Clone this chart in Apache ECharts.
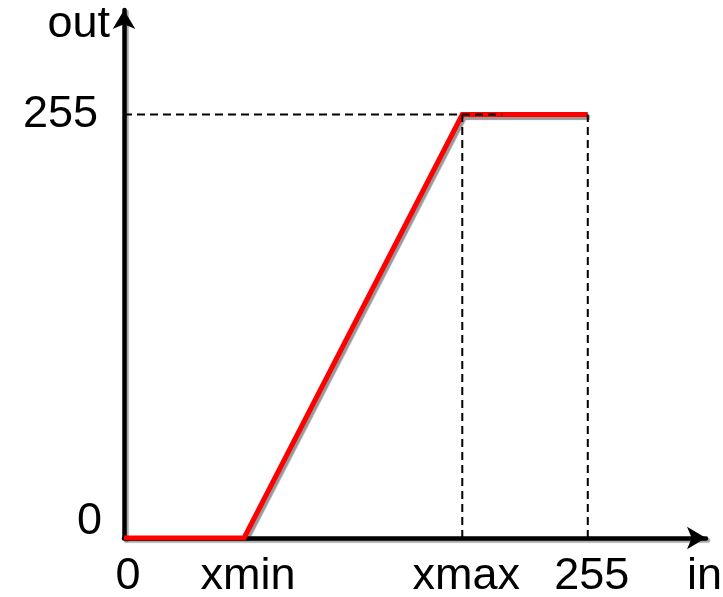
<!DOCTYPE html>
<html>
<head>
<meta charset="utf-8">
<script src="https://cdn.jsdelivr.net/npm/echarts@6/dist/echarts.min.js"></script>
<style>html,body{margin:0;padding:0;background:#fff;}#c{width:723px;height:597px;}</style>
</head>
<body>
<div id="c"></div>
<script>
// Data
var xTickValues = [0, 66, 186, 255, 317];
var xTickLabels = ['0', 'xmin', 'xmax', '255', 'in'];
var yTickValues = [0, 255, 309];
var yTickLabels = ['0', '255', 'out'];
var curveX = [0, 66, 186, 255];
var curveY = [0, 0, 255, 255];
var guideH = [[0, 255], [208, 255]];
var guideV1 = [[186, 0], [186, 255]];
var guideV2 = [[255, 0], [255, 255]];
var xMax = 320;
var yMax = 318;

var FONT = 'Liberation Sans, Arial, sans-serif';
var FS = 45;
var chart = echarts.init(document.getElementById('c'));
var axisLineStyle = {color: '#000', width: 4.5, shadowColor: 'rgba(0,0,0,0.35)', shadowOffsetX: 2, shadowOffsetY: 2, shadowBlur: 1};
var dashStyle = {color: '#000', width: 2, type: [8, 5]};
function pts(xs, ys){ return xs.map(function(x,i){return [x, ys[i]];}); }

chart.setOption({
  animation: false,
  grid: {left: 124, right: 17, top: 10, bottom: 59, outerBoundsMode: 'none', containLabel: false},
  xAxis: {
    type: 'value', min: 0, max: xMax,
    splitLine: {show: false}, axisTick: {show: false},
    axisLine: {show: true, onZero: false, symbol: ['none', 'arrow'], symbolSize: [17, 19], lineStyle: axisLineStyle},
    axisLabel: {
      customValues: xTickValues, margin: 16, padding: [0, 0, 0, 8],
      color: '#000', fontSize: FS, fontFamily: FONT,
      formatter: function(v){ var i = xTickValues.indexOf(v); return i >= 0 ? xTickLabels[i] : ''; }
    }
  },
  yAxis: {
    type: 'value', min: 0, max: yMax,
    splitLine: {show: false}, axisTick: {show: false},
    axisLine: {show: true, onZero: false, symbol: ['none', 'arrow'], symbolSize: [17, 19], lineStyle: axisLineStyle},
    axisLabel: {
      customValues: yTickValues, margin: 14,
      color: '#000', fontSize: FS, fontFamily: FONT,
      formatter: function(v){
        var i = yTickValues.indexOf(v);
        if (i === 0) return '{z|' + yTickLabels[i] + '}';
        if (i === 1) return '{n|' + yTickLabels[i] + '}';
        return i >= 0 ? yTickLabels[i] : '';
      },
      rich: {
        z: {fontSize: FS, fontFamily: FONT, color: '#000', padding: [0, 8, 32, 0]},
        n: {fontSize: FS, fontFamily: FONT, color: '#000', padding: [0, 12, 0, 0]}
      }
    }
  },
  series: [
    {type: 'line', data: pts(curveX, curveY), symbol: 'none', z: 3,
      lineStyle: {color: '#ff0000', width: 5, shadowColor: 'rgba(0,0,0,0.4)', shadowOffsetX: 2, shadowOffsetY: 3, shadowBlur: 1, cap: 'butt', join: 'miter'}},
    {type: 'line', data: guideH, symbol: 'none', z: 4, lineStyle: dashStyle},
    {type: 'line', data: guideV1, symbol: 'none', z: 4, lineStyle: dashStyle},
    {type: 'line', data: guideV2, symbol: 'none', z: 4, lineStyle: dashStyle}
  ]
});
</script>
</body>
</html>
